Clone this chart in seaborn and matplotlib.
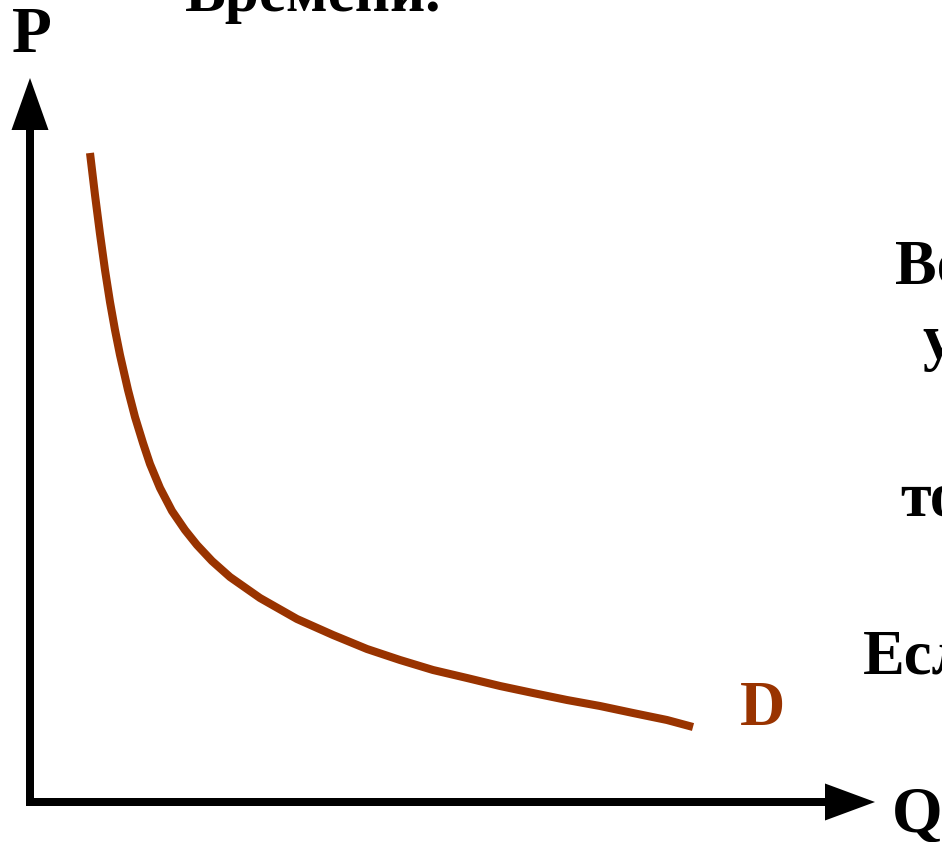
import matplotlib
matplotlib.use("Agg")
import matplotlib.pyplot as plt
import seaborn as sns
import pandas as pd
from matplotlib.patches import FancyArrow

sns.set_theme(style="white")
plt.rcParams["font.family"] = ["Liberation Serif", "DejaVu Serif"]
plt.rcParams["font.weight"] = "bold"

# Demand curve D: quantity Q against price P
quantity = [0.60, 0.65, 0.70, 0.75, 0.80, 0.85, 0.90, 0.98, 1.05, 1.13,
            1.20, 1.30, 1.42, 1.55, 1.67, 1.82, 2.00, 2.30, 2.67, 3.03,
            3.37, 3.70, 4.03, 4.37, 4.70, 5.03, 5.37, 5.70, 6.03, 6.37, 6.63]
price = [6.49, 6.07, 5.68, 5.32, 5.00, 4.72, 4.47, 4.12, 3.85, 3.59,
         3.38, 3.14, 2.91, 2.72, 2.57, 2.41, 2.25, 2.04, 1.83, 1.67,
         1.53, 1.42, 1.32, 1.24, 1.16, 1.09, 1.02, 0.96, 0.89, 0.82, 0.75]

axis_labels = ["P", "Q"]
curve_label = "D"
caption_top = "Времени."
side_fragments = ["Во", "у", "то", "Есл"]

curve_color = "#993300"

df = pd.DataFrame({"Q": quantity, "P": price})

fig = plt.figure(figsize=(9.42, 8.42), dpi=100)
ax = fig.add_axes([0, 0, 1, 1])

# Coordinate axes with arrow heads
q_end, p_end = 8.45, 7.24
ax.add_patch(FancyArrow(0, -0.04, 0, p_end + 0.04, width=0.08,
                        head_width=0.37, head_length=0.52,
                        length_includes_head=True, color="black", lw=0))
ax.add_patch(FancyArrow(-0.04, 0, q_end + 0.04, 0, width=0.08,
                        head_width=0.37, head_length=0.50,
                        length_includes_head=True, color="black", lw=0))

sns.lineplot(data=df, x="Q", y="P", ax=ax, sort=False,
             estimator=None, color=curve_color, linewidth=5.8)
for ln in ax.lines:
    ln.set_solid_capstyle("butt")
    ln.set_solid_joinstyle("round")
ax.set_xlim(-0.30, 9.12)
ax.set_ylim(-0.40, 8.02)
ax.axis("off")

fs = 47
ax.text(-0.18, 7.50, axis_labels[0], fontsize=fs, fontweight="bold",
        ha="left", va="baseline", color="black")
ax.text(8.62, -0.30, axis_labels[1], fontsize=fs, fontweight="bold",
        ha="left", va="baseline", color="black")
ax.text(7.10, 0.77, curve_label, fontsize=45, fontweight="bold",
        ha="left", va="baseline", color=curve_color)

ax.text(1.55, 7.91, caption_top, fontsize=44, fontweight="bold",
        ha="left", va="baseline", color="black")

side_pos = [(8.65, 5.19), (8.92, 4.44), (8.70, 2.87), (8.33, 1.29)]
for txt, (x, y) in zip(side_fragments, side_pos):
    ax.text(x, y, txt, fontsize=45, fontweight="bold",
            ha="left", va="baseline", color="black")

fig.savefig("out.png", dpi=100)
